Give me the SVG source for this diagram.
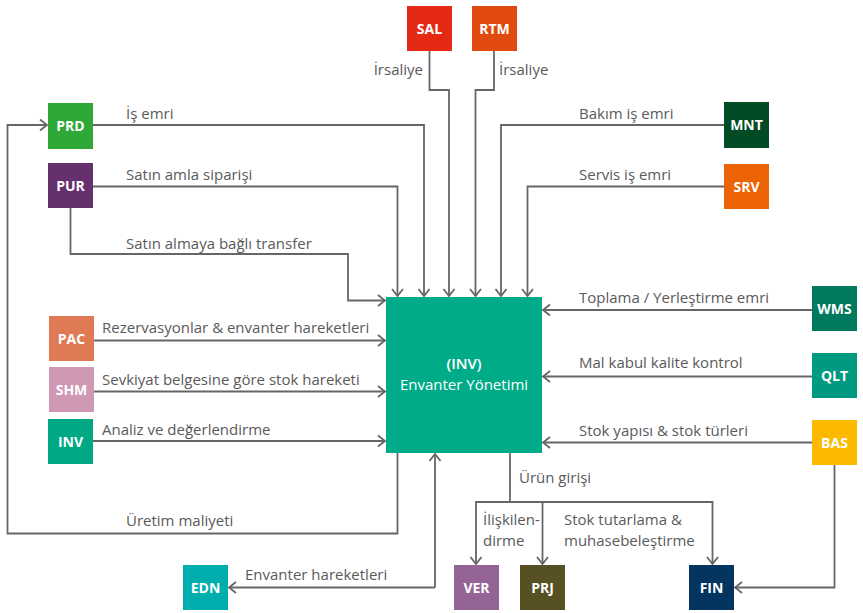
<svg xmlns="http://www.w3.org/2000/svg" width="863" height="613" viewBox="0 0 863 613">
<style>
.n text{font-family:"Open Sans","Liberation Sans",sans-serif;font-size:14px;font-weight:700;fill:#fff;text-anchor:middle}
.lbl{font-family:"Open Sans","Liberation Sans",sans-serif;font-size:15px;fill:#5a5a5a}
.c path{fill:none;stroke:#666;stroke-width:1.8}
.a{marker-end:url(#ar)}
</style>
<defs>
<marker id="ar" markerUnits="userSpaceOnUse" markerWidth="12" markerHeight="14" refX="9" refY="7" orient="auto">
<path d="M2,1.5 L9,7 L2,12.5" fill="none" stroke="#666" stroke-width="1.8"/>
</marker>
</defs>
<rect width="863" height="613" fill="#fff"/>
<g class="c" id="connectors">
<path class="a" d="M93,125 H424 V296"/>
<path class="a" d="M93,186.5 H397.5 V296"/>
<path class="a" d="M70.5,208 V254 H348 V300.5 H385"/>
<path class="a" d="M429.5,51 V90 H449 V296"/>
<path class="a" d="M494,51 V90 H475.5 V296"/>
<path class="a" d="M724,125 H501 V296"/>
<path class="a" d="M724,186.5 H527.5 V296"/>
<path class="a" d="M94,340.5 H385"/>
<path class="a" d="M94,391.5 H385"/>
<path class="a" d="M93,441 H385"/>
<path class="a" d="M812,310 H543"/>
<path class="a" d="M812,376.5 H543"/>
<path class="a" d="M812,442.5 H543"/>
<path class="a" d="M397.5,453 V533.5 H7.5 V125 H47"/>
<path class="a" d="M435,587.5 V454"/>
<path class="a" d="M435,587.5 H229"/>
<path d="M510,453 V502"/>
<path class="a" d="M510,502 H476 V564"/>
<path class="a" d="M542.5,502 V564"/>
<path class="a" d="M510,502 H712.5 V564"/>
<path class="a" d="M834.5,465 V587.5 H735"/>
</g>
<g class="labels">
<text class="lbl" x="126" y="119">İş emri</text>
<text class="lbl" x="126" y="180">Satın amla siparişi</text>
<text class="lbl" x="126" y="249">Satın almaya bağlı transfer</text>
<text class="lbl" x="423" y="75" text-anchor="end">İrsaliye</text>
<text class="lbl" x="499" y="75">İrsaliye</text>
<text class="lbl" x="579" y="119">Bakım iş emri</text>
<text class="lbl" x="579" y="180">Servis iş emri</text>
<text class="lbl" x="102" y="333">Rezervasyonlar &amp; envanter hareketleri</text>
<text class="lbl" x="102" y="385">Sevkiyat belgesine göre stok hareketi</text>
<text class="lbl" x="102" y="435">Analiz ve değerlendirme</text>
<text class="lbl" x="579" y="303">Toplama / Yerleştirme emri</text>
<text class="lbl" x="579" y="368">Mal kabul kalite kontrol</text>
<text class="lbl" x="579" y="436">Stok yapısı &amp; stok türleri</text>
<text class="lbl" x="126" y="526">Üretim maliyeti</text>
<text class="lbl" x="245" y="580">Envanter hareketleri</text>
<text class="lbl" x="519" y="483">Ürün girişi</text>
<text class="lbl" x="483" y="524.5">İlişkilen-</text>
<text class="lbl" x="483" y="545.5">dirme</text>
<text class="lbl" x="564" y="524.5">Stok tutarlama &amp;</text>
<text class="lbl" x="564" y="545.5">muhasebeleştirme</text>
</g>
<g class="n" id="MAIN"><rect x="386" y="297" width="156" height="156" fill="#00ab88"/><text x="464" y="369" style="font-weight:600;font-size:15px">(INV)</text><text x="464" y="390" style="font-weight:400;font-size:15px">Envanter Yönetimi</text></g>
<g class="n" id="PRD"><rect x="48" y="103" width="45" height="46" fill="#2ea836"/><text x="70.5" y="131">PRD</text></g>
<g class="n" id="PUR"><rect x="48" y="163" width="45" height="45" fill="#66306f"/><text x="70.5" y="191">PUR</text></g>
<g class="n" id="SAL"><rect x="407" y="6" width="45" height="45" fill="#e42a12"/><text x="429.5" y="34">SAL</text></g>
<g class="n" id="RTM"><rect x="472" y="6" width="45" height="45" fill="#e04a0e"/><text x="494.5" y="34">RTM</text></g>
<g class="n" id="MNT"><rect x="724" y="102" width="45" height="46" fill="#034b24"/><text x="746.5" y="130">MNT</text></g>
<g class="n" id="SRV"><rect x="724" y="164" width="45" height="45" fill="#ec6306"/><text x="746.5" y="192">SRV</text></g>
<g class="n" id="PAC"><rect x="49" y="316" width="45" height="45" fill="#e07a55"/><text x="71.5" y="344">PAC</text></g>
<g class="n" id="SHM"><rect x="49" y="367" width="45" height="45" fill="#cf98b5"/><text x="71.5" y="395">SHM</text></g>
<g class="n" id="INV"><rect x="48" y="419" width="45" height="45" fill="#00a984"/><text x="70.5" y="447">INV</text></g>
<g class="n" id="WMS"><rect x="812" y="286" width="45" height="45" fill="#007a5e"/><text x="834.5" y="314">WMS</text></g>
<g class="n" id="QLT"><rect x="812" y="353" width="45" height="45" fill="#009a80"/><text x="834.5" y="381">QLT</text></g>
<g class="n" id="BAS"><rect x="812" y="420" width="45" height="45" fill="#fbb900"/><text x="834.5" y="448">BAS</text></g>
<g class="n" id="EDN"><rect x="183" y="565" width="45" height="45" fill="#00afad"/><text x="205.5" y="593">EDN</text></g>
<g class="n" id="VER"><rect x="454" y="565" width="45" height="45" fill="#946497"/><text x="476.5" y="593">VER</text></g>
<g class="n" id="PRJ"><rect x="520" y="565" width="45" height="45" fill="#565023"/><text x="542.5" y="593">PRJ</text></g>
<g class="n" id="FIN"><rect x="689" y="565" width="45" height="45" fill="#033560"/><text x="711.5" y="593">FIN</text></g>
</svg>
